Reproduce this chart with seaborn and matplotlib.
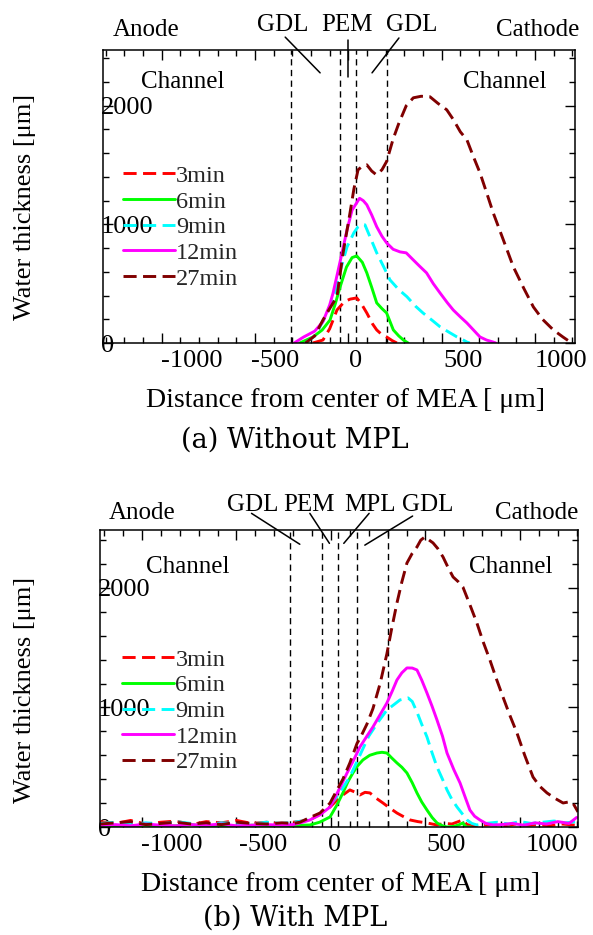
import numpy as np
import pandas as pd
import matplotlib
matplotlib.use("Agg")
import matplotlib.pyplot as plt
import matplotlib.transforms as mtransforms
from matplotlib.ticker import FixedLocator, MultipleLocator
import seaborn as sns

# ---------------- data ----------------
times = ["3min", "6min", "9min", "12min", "27min"]
colors = ["#ff0000", "#00ff00", "#00ffff", "#ff00ff", "#800000"]
dashed = [True, False, True, False, True]

# (a) Without MPL
a_x_3 = [-190, -136, -100, -61, -20, 10, 45, 70, 99, 130, 152, 180, 205, 235, 260]
a_y_3 = [0, 25, 120, 278, 350, 370, 380, 330, 253, 160, 110, 70, 51, 20, 0]
a_x_6 = [-260, -189, -140, -98, -70, -44, -10, 20, 45, 75, 99, 125, 152, 180, 205, 241, 270, 295, 320]
a_y_6 = [0, 51, 110, 194, 330, 473, 640, 720, 734, 680, 591, 470, 338, 290, 253, 110, 60, 25, 0]
a_x_9 = [-230, -180, -152, -120, -82, -45, -7, 30, 52, 72, 89, 120, 152, 190, 223, 270, 314, 360,
         400, 450, 491, 540, 582, 610, 635, 650]
a_y_9 = [0, 60, 137, 230, 363, 600, 810, 930, 980, 1000, 996, 880, 760, 640, 532, 450, 390, 310,
         253, 190, 137, 90, 51, 30, 8, 0]
a_x_12 = [-290, -240, -180, -136, -100, -82, -45, -7, 20, 60, 80, 99, 125, 152, 180, 205, 240, 277,
          310, 348, 380, 419, 455, 491, 530, 562, 600, 635, 670, 705, 740, 776, 790]
a_y_12 = [0, 50, 100, 180, 320, 420, 680, 954, 1120, 1220, 1200, 1165, 1080, 980, 900, 844, 790, 768,
          760, 700, 650, 591, 500, 422, 340, 278, 220, 169, 110, 51, 25, 8, 0]
a_x_27 = [-230, -180, -136, -100, -61, -28, 9, 30, 52, 75, 99, 125, 150, 180, 205, 240, 270, 310,
          348, 390, 437, 480, 527, 563, 600, 635, 670, 705, 740, 776, 830, 884, 940, 991, 1040,
          1098, 1150, 1189]
a_y_27 = [0, 60, 194, 290, 390, 760, 1097, 1300, 1460, 1490, 1502, 1450, 1418, 1460, 1530, 1720, 1850, 2000,
          2067, 2080, 2076, 2020, 1966, 1882, 1780, 1713, 1570, 1435, 1270, 1097, 870, 641, 460, 304, 200,
          110, 50, 8]

# (b) With MPL
b_x_3 = [-1220, -1140, -1060, -980, -900, -820, -740, -660, -580, -500, -420, -340, -260,
         -200, -150, -111, -60, -5, 48, 100, 130, 153, 180, 206, 240, 275, 310, 349, 380, 418,
         460, 508, 560, 600, 640, 698, 720, 760, 800, 860, 920, 980, 1040, 1100, 1160, 1220, 1300]
b_y_3 = [45, 30, 55, 25, 40, 50, 20, 45, 35, 55, 30, 40, 25,
         40, 50, 59, 110, 167, 251, 310, 290, 268, 290, 285, 240, 201, 160, 117, 90, 59,
         45, 34, 17, 30, 25, 59, 20, 10, 15, 20, 10, 25, 15, 20, 10, 25, 15]
b_x_6 = [-1220, -1140, -1060, -980, -900, -820, -740, -660, -580, -500, -420, -340, -260,
         -200, -150, -111, -60, -5, 30, 63, 90, 116, 140, 169, 205, 243, 270, 296, 320, 349,
         375, 402, 430, 455, 480, 508, 535, 561, 590, 614, 650, 680, 698, 715, 740]
b_y_6 = [5, 10, 5, 15, 5, 10, 20, 5, 10, 5, 15, 10, 5,
         10, 15, 17, 40, 84, 180, 285, 380, 452, 510, 561, 600, 619, 625, 619, 580, 536,
         500, 452, 370, 285, 210, 142, 80, 34, 10, 0, 5, 20, 34, 0, 0]
b_x_9 = [-1220, -1140, -1060, -980, -900, -820, -740, -660, -580, -500, -420, -340, -260,
         -200, -150, -111, -60, -5, 48, 100, 153, 200, 250, 296, 330, 365, 408, 430, 455, 480,
         508, 535, 561, 590, 614, 640, 667, 695, 720, 745, 772, 820, 880, 940, 1000, 1060, 1120,
         1180, 1240, 1300]
b_y_9 = [30, 40, 20, 35, 25, 45, 30, 20, 35, 30, 25, 40, 30,
         40, 50, 70, 110, 178, 290, 420, 600, 760, 880, 979, 1020, 1063, 1080, 1050, 962, 860,
         753, 620, 502, 400, 310, 230, 167, 110, 59, 30, 17, 30, 40, 25, 45, 30, 40,
         50, 35, 45]
b_x_12 = [-1220, -1140, -1060, -980, -900, -820, -740, -660, -580, -500, -420, -340, -260,
          -200, -150, -111, -60, -5, 48, 85, 120, 153, 190, 222, 260, 296, 325, 349, 375, 402,
          430, 455, 480, 508, 535, 561, 590, 614, 650, 683, 710, 735, 760, 788, 820, 857, 900,
          960, 1020, 1080, 1140, 1200, 1260, 1300]
b_y_12 = [15, 20, 10, 25, 15, 10, 20, 15, 25, 10, 15, 20, 15,
          20, 40, 59, 100, 167, 330, 452, 560, 669, 760, 837, 940, 1038, 1140, 1230, 1290, 1331,
          1330, 1314, 1230, 1121, 1010, 895, 760, 619, 480, 368, 250, 142, 90, 59, 30, 17, 20,
          30, 15, 35, 25, 45, 30, 80]
b_x_27 = [-1220, -1140, -1060, -980, -900, -820, -740, -660, -580, -500, -420, -340, -260,
          -200, -164, -111, -58, -5, 32, 63, 100, 138, 153, 190, 222, 260, 296, 320, 349, 375,
          402, 430, 455, 475, 497, 520, 540, 565, 593, 620, 646, 675, 698, 735, 772, 805, 841,
          875, 910, 945, 984, 1025, 1069, 1105, 1143, 1185, 1228, 1260, 1280, 1307]
b_y_27 = [25, 35, 45, 20, 30, 40, 25, 35, 20, 40, 30, 25, 35,
          30, 40, 80, 117, 200, 310, 400, 536, 700, 740, 860, 990, 1200, 1450, 1650, 1874, 2050,
          2209, 2290, 2343, 2400, 2427, 2400, 2377, 2330, 2259, 2170, 2092, 2050, 2008, 1860, 1707,
          1550, 1397, 1240, 1088, 940, 787, 600, 418, 340, 285, 240, 201, 210, 201, 126]

# layer boundaries (um)
a_bounds = [-307, -44, 41, 207]
b_bounds = [-217, -48, 37, 138, 302]

xtick_vals = [-1000, -500, 0, 500, 1000]
xtick_labels = ["-1000", "-500", "0", "500", "1000"]
ytick_vals = [0, 1000, 2000]
ytick_labels = ["0", "1000", "2000"]

a_series = [(a_x_3, a_y_3), (a_x_6, a_y_6), (a_x_9, a_y_9), (a_x_12, a_y_12), (a_x_27, a_y_27)]
b_series = [(b_x_3, b_y_3), (b_x_6, b_y_6), (b_x_9, b_y_9), (b_x_12, b_y_12), (b_x_27, b_y_27)]


def to_df(series):
    frames = []
    for t, (xs, ys) in zip(times, series):
        frames.append(pd.DataFrame({"x": xs, "y": ys, "time": t}))
    return pd.concat(frames, ignore_index=True)


# ---------------- style ----------------
sns.set_theme(style="ticks")
plt.rcParams["font.family"] = ["Liberation Serif", "DejaVu Serif"]
plt.rcParams["axes.unicode_minus"] = False
plt.rcParams["axes.edgecolor"] = "black"
plt.rcParams["axes.linewidth"] = 1.1

fig = plt.figure(figsize=(5.93, 9.35), dpi=100)
fig.patch.set_facecolor("white")
ax_a = fig.add_axes([103 / 593, 1 - 343 / 935, 472 / 593, 293 / 935])
ax_b = fig.add_axes([100 / 593, 1 - 827 / 935, 478 / 593, 297 / 935])

palette = dict(zip(times, colors))
dash_map = {t: ((4.5, 2.2) if d else "") for t, d in zip(times, dashed)}

FS = 19


def setup(ax, series, bounds, xlim, ylim, xoffs, leg_anchor, xlab_coords, ylab_coords):
    df = to_df(series)
    sns.lineplot(data=df, x="x", y="y", hue="time", style="time", hue_order=times,
                 style_order=times, palette=palette, dashes=dash_map, estimator=None,
                 sort=False, linewidth=2.1, ax=ax)
    for b in bounds:
        ax.axvline(b, color="black", lw=1.0, ls=(0, (4.5, 3.2)), zorder=1)
    ax.set_xlim(*xlim)
    ax.set_ylim(*ylim)

    ax.xaxis.set_minor_locator(MultipleLocator(100))
    ax.yaxis.set_minor_locator(MultipleLocator(200))
    ax.tick_params(which="both", direction="in", top=True, right=True, color="black",
                   width=1.0, labelsize=FS, labelcolor="black")
    ax.tick_params(which="major", length=7)
    ax.tick_params(which="minor", length=4.5)
    ax.tick_params(axis="x", pad=5)
    ax.tick_params(axis="y", pad=1.5)
    ax.set_xticks(xtick_vals, labels=xtick_labels)
    ax.set_yticks(ytick_vals, labels=ytick_labels)
    for lbl in ax.get_yticklabels():
        lbl.set_horizontalalignment("left")
    for lbl, dx in zip(ax.get_xticklabels(), xoffs):
        lbl.set_transform(lbl.get_transform() +
                          mtransforms.ScaledTranslation(dx / 100, 0, fig.dpi_scale_trans))

    for s in ax.spines.values():
        s.set_color("black")
        s.set_linewidth(1.1)

    ax.set_xlabel("Distance from center of MEA [ \u03bcm]", fontsize=20, color="black")
    ax.set_ylabel("Water thickness [\u03bcm]", fontsize=FS, color="black")
    ax.xaxis.label.set_va("center")
    ax.yaxis.label.set_va("center")
    ax.xaxis.set_label_coords(*xlab_coords)
    ax.yaxis.set_label_coords(*ylab_coords)

    handles, labels = ax.get_legend_handles_labels()
    leg = ax.legend(handles, labels, loc="upper left", bbox_to_anchor=leg_anchor,
                    frameon=False, fontsize=17.5, handlelength=2.15, handletextpad=0.05,
                    labelspacing=0.15, borderpad=0, borderaxespad=0)
    for h in leg.get_lines():
        h.set_linewidth(2.1)


setup(ax_a, a_series, a_bounds, (-1314, 1214), (0, 2470), [30, 20, 7, 21, 26],
      (0.042, 0.608), (0.513, -0.195), (-0.165, 0.464))
setup(ax_b, b_series, b_bounds, (-1222, 1307), (0, 2485), [30, 27, 4, 21, 32],
      (0.046, 0.600), (0.504, -0.195), (-0.157, 0.461))

ANN = 18


def annotate(ax, texts, lines):
    for (tx, ty, s) in texts:
        ax.text(tx, ty, s, transform=ax.transAxes, ha="center", va="center",
                fontsize=ANN, color="black", clip_on=False)
    for (x0, y0, x1, y1) in lines:
        ax.plot([x0, x1], [y0, y1], transform=ax.transAxes, color="black", lw=1.1,
                clip_on=False)


annotate(ax_a,
         [(0.091, 1.068, "Anode"), (0.920, 1.068, "Cathode"), (0.380, 1.085, "GDL"),
          (0.516, 1.085, "PEM"), (0.655, 1.085, "GDL"), (0.168, 0.891, "Channel"),
          (0.851, 0.891, "Channel")],
         [(0.386, 1.044, 0.460, 0.922), (0.519, 1.034, 0.519, 0.908),
          (0.627, 1.041, 0.570, 0.922)])
annotate(ax_b,
         [(0.089, 1.057, "Anode"), (0.913, 1.057, "Cathode"), (0.319, 1.084, "GDL"),
          (0.437, 1.084, "PEM"), (0.565, 1.084, "MPL"), (0.685, 1.084, "GDL"),
          (0.183, 0.875, "Channel"), (0.859, 0.875, "Channel")],
         [(0.317, 1.056, 0.418, 0.952), (0.439, 1.056, 0.480, 0.955),
          (0.563, 1.056, 0.510, 0.955), (0.654, 1.047, 0.554, 0.949)])

fig.text(295 / 593, 1 - 440 / 935, "(a) Without MPL", ha="center", va="center",
         fontsize=19.5, family=["DejaVu Serif"], color="black")
fig.text(295 / 593, 1 - 918 / 935, "(b) With MPL", ha="center", va="center",
         fontsize=19.5, family=["DejaVu Serif"], color="black")

fig.savefig("out.png", dpi=100, facecolor="white")
